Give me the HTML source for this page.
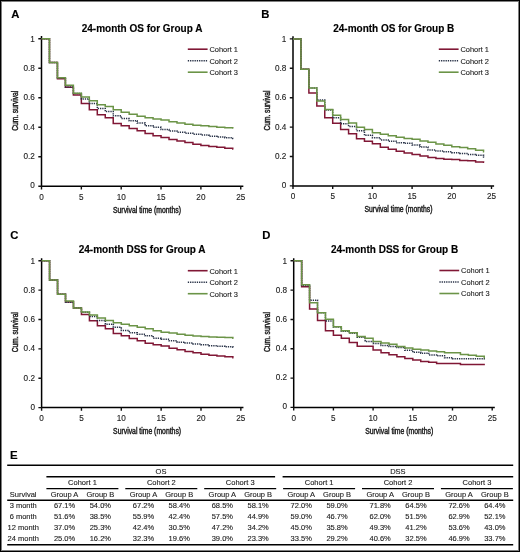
<!DOCTYPE html>
<html><head><meta charset="utf-8"><title>Survival curves</title>
<style>
html,body{margin:0;padding:0;background:#fff;}
body{width:520px;height:552px;overflow:hidden;position:relative;}
.frame{position:absolute;left:0;top:0;width:518px;height:550px;border:1px solid #000;}
.frame2{position:absolute;left:1px;top:1px;width:516px;height:548px;border:1px solid rgba(0,0,0,0.5);}
svg{position:absolute;left:0;top:0;font-family:"Liberation Sans", sans-serif;will-change:transform;filter:blur(0.3px);}
text{stroke:#222;stroke-width:0.12px;}
text[font-weight=bold]{stroke:#000;stroke-width:0.15px;}
</style></head><body>
<div class="frame"></div><div class="frame2"></div>
<svg width="520" height="552" viewBox="0 0 520 552">
<text x="11.2" y="17.8" font-size="11.3" font-weight="bold">A</text>
<text x="81.7" y="31.6" font-size="10" font-weight="bold">24-month OS for Group A</text>
<path d="M41.5 36.1V186.2H243.35" fill="none" stroke="#000" stroke-width="1.5"/>
<path d="M38.3 186.2H41.5M41.5 186.2V189.4M38.3 156.7H41.5M81.35 186.2V189.4M38.3 127.2H41.5M121.2 186.2V189.4M38.3 97.7H41.5M161.05 186.2V189.4M38.3 68.2H41.5M200.9 186.2V189.4M38.3 38.7H41.5M240.75 186.2V189.4" stroke="#111" stroke-width="1.4" fill="none"/>
<text x="34.9" y="188.25" font-size="8.2" text-anchor="end" fill="#222">0</text>
<text x="34.9" y="158.99" font-size="8.2" text-anchor="end" fill="#222">0.2</text>
<text x="34.9" y="129.73" font-size="8.2" text-anchor="end" fill="#222">0.4</text>
<text x="34.9" y="100.47" font-size="8.2" text-anchor="end" fill="#222">0.6</text>
<text x="34.9" y="71.21" font-size="8.2" text-anchor="end" fill="#222">0.8</text>
<text x="34.9" y="41.95" font-size="8.2" text-anchor="end" fill="#222">1</text>
<text x="41.5" y="199.7" font-size="8.2" text-anchor="middle" fill="#222">0</text>
<text x="81.35" y="199.7" font-size="8.2" text-anchor="middle" fill="#222">5</text>
<text x="121.2" y="199.7" font-size="8.2" text-anchor="middle" fill="#222">10</text>
<text x="161.05" y="199.7" font-size="8.2" text-anchor="middle" fill="#222">15</text>
<text x="200.9" y="199.7" font-size="8.2" text-anchor="middle" fill="#222">20</text>
<text x="240.75" y="199.7" font-size="8.2" text-anchor="middle" fill="#222">25</text>
<text transform="translate(18.2 110.8) rotate(-90)" font-size="8.4" text-anchor="middle" textLength="40" lengthAdjust="spacingAndGlyphs" fill="#222" style="stroke-width:0.45px">Cum. survival</text>
<text x="113" y="212.6" font-size="8.4" textLength="68" lengthAdjust="spacingAndGlyphs" fill="#222" style="stroke-width:0.45px">Survival time (months)</text>
<path d="M41.5 38.7H49.47V62.45H57.44V78.82H65.41V87.23H73.38V95.04H81.35V103.45H89.32V109.65H97.29V114.66H105.26V117.76H113.23V123.51H121.2V125.72H129.17V128.53H137.14V130.74H145.11V133.39H153.08V135.75H161.05V137.38H169.02V139.44H176.99V141.06H184.96V142.54H192.93V144.31H200.9V145.49H208.87V146.38H216.84V147.26H224.81V148.14H232.78V148.88h0.6" fill="none" stroke="#801735" stroke-width="1.5"/>
<path d="M41.5 38.7H49.47V62.45H57.44V77.79H65.41V87.08H73.38V93.59H81.35V98.88H89.32V103.45H97.29V108.47H105.26V111.56H113.23V115.84H121.2V118.5H129.17V120.86H137.14V123.07H145.11V125.72H153.08V127.2H161.05V129.56H169.02V131.03H176.99V132.21H184.96V133.25H192.93V134.13H200.9V135.02H208.87V136.2H216.84V137.08H224.81V137.67H232.78V138.56h0.6" fill="none" stroke="#283247" stroke-width="1.5" stroke-dasharray="1.3 0.95"/>
<path d="M41.5 38.7H49.47V62.45H57.44V77.79H65.41V85.16H73.38V93.13H81.35V96.96H89.32V100.8H97.29V104.63H105.26V106.55H113.23V109.65H121.2V112.3H129.17V114.37H137.14V116.14H145.11V117.76H153.08V118.94H161.05V119.97H169.02V121.74H176.99V123.07H184.96V124.25H192.93V125.28H200.9V125.87H208.87V126.61H216.84V127.2H224.81V127.64H232.78V127.94h0.6" fill="none" stroke="#6b9447" stroke-width="1.5"/>
<path d="M187.8 49.2H207.6" stroke="#801735" stroke-width="1.6"/>
<text x="209.4" y="52" font-size="8.1" textLength="28.6" lengthAdjust="spacingAndGlyphs" fill="#222">Cohort 1</text>
<path d="M187.8 60.7H207.6" stroke="#283247" stroke-width="1.5" stroke-dasharray="1.3 0.95"/>
<text x="209.4" y="63.5" font-size="8.1" textLength="28.6" lengthAdjust="spacingAndGlyphs" fill="#222">Cohort 2</text>
<path d="M187.8 72.2H207.6" stroke="#6b9447" stroke-width="1.6"/>
<text x="209.4" y="75" font-size="8.1" textLength="28.6" lengthAdjust="spacingAndGlyphs" fill="#222">Cohort 3</text>
<text x="261.2" y="17.8" font-size="11.3" font-weight="bold">B</text>
<text x="333.2" y="32.2" font-size="10" font-weight="bold">24-month OS for Group B</text>
<path d="M293 36.3V185.9H494.1" fill="none" stroke="#000" stroke-width="1.5"/>
<path d="M289.8 185.9H293M293 185.9V189.1M289.8 156.5H293M332.7 185.9V189.1M289.8 127.1H293M372.4 185.9V189.1M289.8 97.7H293M412.1 185.9V189.1M289.8 68.3H293M451.8 185.9V189.1M289.8 38.9H293M491.5 185.9V189.1" stroke="#111" stroke-width="1.4" fill="none"/>
<text x="286.4" y="187.95" font-size="8.2" text-anchor="end" fill="#222">0</text>
<text x="286.4" y="158.79" font-size="8.2" text-anchor="end" fill="#222">0.2</text>
<text x="286.4" y="129.63" font-size="8.2" text-anchor="end" fill="#222">0.4</text>
<text x="286.4" y="100.47" font-size="8.2" text-anchor="end" fill="#222">0.6</text>
<text x="286.4" y="71.31" font-size="8.2" text-anchor="end" fill="#222">0.8</text>
<text x="286.4" y="42.15" font-size="8.2" text-anchor="end" fill="#222">1</text>
<text x="293" y="199.4" font-size="8.2" text-anchor="middle" fill="#222">0</text>
<text x="332.7" y="199.4" font-size="8.2" text-anchor="middle" fill="#222">5</text>
<text x="372.4" y="199.4" font-size="8.2" text-anchor="middle" fill="#222">10</text>
<text x="412.1" y="199.4" font-size="8.2" text-anchor="middle" fill="#222">15</text>
<text x="451.8" y="199.4" font-size="8.2" text-anchor="middle" fill="#222">20</text>
<text x="491.5" y="199.4" font-size="8.2" text-anchor="middle" fill="#222">25</text>
<text transform="translate(269.7 110.5) rotate(-90)" font-size="8.4" text-anchor="middle" textLength="40" lengthAdjust="spacingAndGlyphs" fill="#222" style="stroke-width:0.45px">Cum. survival</text>
<text x="364.5" y="212.3" font-size="8.4" textLength="68" lengthAdjust="spacingAndGlyphs" fill="#222" style="stroke-width:0.45px">Survival time (months)</text>
<path d="M293 38.9H300.94V69.33H308.88V93H316.82V106.08H324.76V117.84H332.7V123.13H340.64V129.6H348.58V133.86H356.52V138.86H364.46V141.21H372.4V143.86H380.34V147.24H388.28V149.15H396.22V151.21H404.16V152.97H412.1V154.44H420.04V156.06H427.98V157.53H435.92V158.41H443.86V159.15H451.8V159.59H459.74V160.47H467.68V160.76H475.62V161.94H483.56V162.23h0.6" fill="none" stroke="#801735" stroke-width="1.5"/>
<path d="M293 38.9H300.94V69.33H308.88V88H316.82V100.05H324.76V109.89H332.7V117.84H340.64V123.87H348.58V126.51H356.52V130.63H364.46V135.33H372.4V137.83H380.34V139.89H388.28V141.21H396.22V142.68H404.16V143.27H412.1V144.89H420.04V147.09H427.98V150.03H435.92V151.06H443.86V151.8H451.8V152.68H459.74V153.56H467.68V154.44H475.62V155.32H483.56V156.94h0.6" fill="none" stroke="#283247" stroke-width="1.5" stroke-dasharray="1.3 0.95"/>
<path d="M293 38.9H300.94V69.33H308.88V88H316.82V101.08H324.76V109.61H332.7V115.34H340.64V119.6H348.58V122.98H356.52V127.25H364.46V129.6H372.4V132.69H380.34V134.16H388.28V135.77H396.22V137.24H404.16V138.57H412.1V139.15H420.04V140.92H427.98V142.24H435.92V144.01H443.86V145.33H451.8V146.65H459.74V147.53H467.68V148.86H475.62V150.18H483.56V151.8h0.6" fill="none" stroke="#6b9447" stroke-width="1.5"/>
<path d="M438.8 49.2H458.6" stroke="#801735" stroke-width="1.6"/>
<text x="460.4" y="52" font-size="8.1" textLength="28.6" lengthAdjust="spacingAndGlyphs" fill="#222">Cohort 1</text>
<path d="M438.8 60.7H458.6" stroke="#283247" stroke-width="1.5" stroke-dasharray="1.3 0.95"/>
<text x="460.4" y="63.5" font-size="8.1" textLength="28.6" lengthAdjust="spacingAndGlyphs" fill="#222">Cohort 2</text>
<path d="M438.8 72.2H458.6" stroke="#6b9447" stroke-width="1.6"/>
<text x="460.4" y="75" font-size="8.1" textLength="28.6" lengthAdjust="spacingAndGlyphs" fill="#222">Cohort 3</text>
<text x="10.2" y="239.2" font-size="11.3" font-weight="bold">C</text>
<text x="78.7" y="252.9" font-size="10" font-weight="bold">24-month DSS for Group A</text>
<path d="M41.6 258.2V407.6H243.45" fill="none" stroke="#000" stroke-width="1.5"/>
<path d="M38.4 407.6H41.6M41.6 407.6V410.8M38.4 378.24H41.6M81.45 407.6V410.8M38.4 348.88H41.6M121.3 407.6V410.8M38.4 319.52H41.6M161.15 407.6V410.8M38.4 290.16H41.6M201 407.6V410.8M38.4 260.8H41.6M240.85 407.6V410.8" stroke="#111" stroke-width="1.4" fill="none"/>
<text x="35" y="409.65" font-size="8.2" text-anchor="end" fill="#222">0</text>
<text x="35" y="380.53" font-size="8.2" text-anchor="end" fill="#222">0.2</text>
<text x="35" y="351.41" font-size="8.2" text-anchor="end" fill="#222">0.4</text>
<text x="35" y="322.29" font-size="8.2" text-anchor="end" fill="#222">0.6</text>
<text x="35" y="293.17" font-size="8.2" text-anchor="end" fill="#222">0.8</text>
<text x="35" y="264.05" font-size="8.2" text-anchor="end" fill="#222">1</text>
<text x="41.6" y="421.1" font-size="8.2" text-anchor="middle" fill="#222">0</text>
<text x="81.45" y="421.1" font-size="8.2" text-anchor="middle" fill="#222">5</text>
<text x="121.3" y="421.1" font-size="8.2" text-anchor="middle" fill="#222">10</text>
<text x="161.15" y="421.1" font-size="8.2" text-anchor="middle" fill="#222">15</text>
<text x="201" y="421.1" font-size="8.2" text-anchor="middle" fill="#222">20</text>
<text x="240.85" y="421.1" font-size="8.2" text-anchor="middle" fill="#222">25</text>
<text transform="translate(18.3 332.2) rotate(-90)" font-size="8.4" text-anchor="middle" textLength="40" lengthAdjust="spacingAndGlyphs" fill="#222" style="stroke-width:0.45px">Cum. survival</text>
<text x="113.1" y="434" font-size="8.4" textLength="68" lengthAdjust="spacingAndGlyphs" fill="#222" style="stroke-width:0.45px">Survival time (months)</text>
<path d="M41.6 260.8H49.57V279.88H57.54V294.27H65.51V301.9H73.48V307.92H81.45V314.53H89.42V320.69H97.39V325.83H105.36V328.77H113.33V333.47H121.3V335.81H129.27V338.46H137.24V340.66H145.21V343.15H153.18V344.77H161.15V345.94H169.12V348.15H177.09V349.76H185.06V351.52H193.03V352.84H201V354.16H208.97V355.19H216.94V356.07H224.91V356.66H232.88V357.69h0.6" fill="none" stroke="#801735" stroke-width="1.5"/>
<path d="M41.6 260.8H49.57V279.88H57.54V294.27H65.51V302.2H73.48V307.75H81.45V312.27H89.42V316.44H97.39V320.4H105.36V324.22H113.33V327.3H121.3V330.38H129.27V332.73H137.24V334.2H145.21V335.81H153.18V338.16H161.15V339.34H169.12V340.81H177.09V342.13H185.06V343.01H193.03V343.89H201V344.77H208.97V345.65H216.94V346.24H224.91V346.82H232.88V347.27h0.6" fill="none" stroke="#283247" stroke-width="1.5" stroke-dasharray="1.3 0.95"/>
<path d="M41.6 260.8H49.57V279.88H57.54V294.27H65.51V301.02H73.48V307.92H81.45V311.89H89.42V314.97H97.39V318.05H105.36V320.4H113.33V322.75H121.3V324.22H129.27V325.83H137.24V327.3H145.21V328.77H153.18V330.68H161.15V332.14H169.12V333.03H177.09V334.2H185.06V335.23H193.03V335.96H201V336.4H208.97V336.99H216.94V337.28H224.91V337.58H232.88V338.16h0.6" fill="none" stroke="#6b9447" stroke-width="1.5"/>
<path d="M187.8 270.7H207.6" stroke="#801735" stroke-width="1.6"/>
<text x="209.4" y="273.5" font-size="8.1" textLength="28.6" lengthAdjust="spacingAndGlyphs" fill="#222">Cohort 1</text>
<path d="M187.8 282.2H207.6" stroke="#283247" stroke-width="1.5" stroke-dasharray="1.3 0.95"/>
<text x="209.4" y="285" font-size="8.1" textLength="28.6" lengthAdjust="spacingAndGlyphs" fill="#222">Cohort 2</text>
<path d="M187.8 293.7H207.6" stroke="#6b9447" stroke-width="1.6"/>
<text x="209.4" y="296.5" font-size="8.1" textLength="28.6" lengthAdjust="spacingAndGlyphs" fill="#222">Cohort 3</text>
<text x="262.2" y="239.2" font-size="11.3" font-weight="bold">D</text>
<text x="330.9" y="252.9" font-size="10" font-weight="bold">24-month DSS for Group B</text>
<path d="M293.7 258.2V407.4H494.8" fill="none" stroke="#000" stroke-width="1.5"/>
<path d="M290.5 407.4H293.7M293.7 407.4V410.6M290.5 378.08H293.7M333.4 407.4V410.6M290.5 348.76H293.7M373.1 407.4V410.6M290.5 319.44H293.7M412.8 407.4V410.6M290.5 290.12H293.7M452.5 407.4V410.6M290.5 260.8H293.7M492.2 407.4V410.6" stroke="#111" stroke-width="1.4" fill="none"/>
<text x="287.1" y="409.45" font-size="8.2" text-anchor="end" fill="#222">0</text>
<text x="287.1" y="380.37" font-size="8.2" text-anchor="end" fill="#222">0.2</text>
<text x="287.1" y="351.29" font-size="8.2" text-anchor="end" fill="#222">0.4</text>
<text x="287.1" y="322.21" font-size="8.2" text-anchor="end" fill="#222">0.6</text>
<text x="287.1" y="293.13" font-size="8.2" text-anchor="end" fill="#222">0.8</text>
<text x="287.1" y="264.05" font-size="8.2" text-anchor="end" fill="#222">1</text>
<text x="293.7" y="420.9" font-size="8.2" text-anchor="middle" fill="#222">0</text>
<text x="333.4" y="420.9" font-size="8.2" text-anchor="middle" fill="#222">5</text>
<text x="373.1" y="420.9" font-size="8.2" text-anchor="middle" fill="#222">10</text>
<text x="412.8" y="420.9" font-size="8.2" text-anchor="middle" fill="#222">15</text>
<text x="452.5" y="420.9" font-size="8.2" text-anchor="middle" fill="#222">20</text>
<text x="492.2" y="420.9" font-size="8.2" text-anchor="middle" fill="#222">25</text>
<text transform="translate(270.4 332) rotate(-90)" font-size="8.4" text-anchor="middle" textLength="40" lengthAdjust="spacingAndGlyphs" fill="#222" style="stroke-width:0.45px">Cum. survival</text>
<text x="365.2" y="433.8" font-size="8.4" textLength="68" lengthAdjust="spacingAndGlyphs" fill="#222" style="stroke-width:0.45px">Survival time (months)</text>
<path d="M293.7 260.8H301.64V286.75H309.58V308.88H317.52V320.61H325.46V330.73H333.4V335.27H341.34V338.35H349.28V342.46H357.22V346.27H365.16V346.27H373.1V350.08H381.04V352.72H388.98V354.77H396.92V356.82H404.86V358.44H412.8V360.05H420.74V361.51H428.68V362.25H436.62V363.42H444.56V363.42H452.5V363.42H460.44V364.59H468.38V364.59H476.32V364.59H484.26V364.59h0.6" fill="none" stroke="#801735" stroke-width="1.5"/>
<path d="M293.7 260.8H301.64V285.43H309.58V300.24H317.52V312.84H325.46V320.95H333.4V327.11H341.34V331.17H349.28V333.37H357.22V337.33H365.16V341.43H373.1V343.48H381.04V345.53H388.98V346.56H396.92V347.59H404.86V350.23H412.8V352.28H420.74V353.16H428.68V354.92H436.62V355.8H444.56V357.7H452.5V358.73H460.44V358.73H468.38V358.73H476.32V358.73H484.26V359.75h0.6" fill="none" stroke="#283247" stroke-width="1.5" stroke-dasharray="1.3 0.95"/>
<path d="M293.7 260.8H301.64V284.7H309.58V302.73H317.52V312.84H325.46V319.29H333.4V326.77H341.34V330.73H349.28V332.63H357.22V336.45H365.16V338.35H373.1V341.43H381.04V343.04H388.98V344.22H396.92V346.56H404.86V347.88H412.8V349.2H420.74V349.93H428.68V351.11H436.62V351.84H444.56V352.72H452.5V352.72H460.44V354.62H468.38V355.36H476.32V356.24H484.26V357.7h0.6" fill="none" stroke="#6b9447" stroke-width="1.5"/>
<path d="M439.4 270.5H459.2" stroke="#801735" stroke-width="1.6"/>
<text x="461" y="273.3" font-size="8.1" textLength="28.6" lengthAdjust="spacingAndGlyphs" fill="#222">Cohort 1</text>
<path d="M439.4 282H459.2" stroke="#283247" stroke-width="1.5" stroke-dasharray="1.3 0.95"/>
<text x="461" y="284.8" font-size="8.1" textLength="28.6" lengthAdjust="spacingAndGlyphs" fill="#222">Cohort 2</text>
<path d="M439.4 293.5H459.2" stroke="#6b9447" stroke-width="1.6"/>
<text x="461" y="296.3" font-size="8.1" textLength="28.6" lengthAdjust="spacingAndGlyphs" fill="#222">Cohort 3</text>
<text x="9.9" y="458.7" font-size="11.5" font-weight="bold">E</text>
<path d="M7.2 465.3H513.2" stroke="#000" stroke-width="1.4"/>
<path d="M46.4 476.8H275.1M282.6 476.8H513.2" stroke="#000" stroke-width="1.4"/>
<path d="M46.4 488.6H118.4M125.3 488.6H197.3M204.2 488.6H276.2M283.1 488.6H355.1M362 488.6H434M440.9 488.6H512.9" stroke="#000" stroke-width="1.4"/>
<path d="M7.2 500.3H513.2" stroke="#000" stroke-width="1.4"/>
<path d="M7.2 544.8H513.2" stroke="#000" stroke-width="1.6"/>
<text x="161" y="473.7" font-size="7.5" text-anchor="middle" fill="#222">OS</text>
<text x="397.9" y="473.7" font-size="7.5" text-anchor="middle" fill="#222">DSS</text>
<text x="82.45" y="485.2" font-size="7.5" text-anchor="middle" fill="#222">Cohort 1</text>
<text x="64.55" y="497.2" font-size="7.5" text-anchor="middle" fill="#222">Group A</text>
<text x="100.35" y="497.2" font-size="7.5" text-anchor="middle" fill="#222">Group B</text>
<text x="161.35" y="485.2" font-size="7.5" text-anchor="middle" fill="#222">Cohort 2</text>
<text x="143.45" y="497.2" font-size="7.5" text-anchor="middle" fill="#222">Group A</text>
<text x="179.25" y="497.2" font-size="7.5" text-anchor="middle" fill="#222">Group B</text>
<text x="240.25" y="485.2" font-size="7.5" text-anchor="middle" fill="#222">Cohort 3</text>
<text x="222.35" y="497.2" font-size="7.5" text-anchor="middle" fill="#222">Group A</text>
<text x="258.15" y="497.2" font-size="7.5" text-anchor="middle" fill="#222">Group B</text>
<text x="319.15" y="485.2" font-size="7.5" text-anchor="middle" fill="#222">Cohort 1</text>
<text x="301.25" y="497.2" font-size="7.5" text-anchor="middle" fill="#222">Group A</text>
<text x="337.05" y="497.2" font-size="7.5" text-anchor="middle" fill="#222">Group B</text>
<text x="398.05" y="485.2" font-size="7.5" text-anchor="middle" fill="#222">Cohort 2</text>
<text x="380.15" y="497.2" font-size="7.5" text-anchor="middle" fill="#222">Group A</text>
<text x="415.95" y="497.2" font-size="7.5" text-anchor="middle" fill="#222">Group B</text>
<text x="476.95" y="485.2" font-size="7.5" text-anchor="middle" fill="#222">Cohort 3</text>
<text x="459.05" y="497.2" font-size="7.5" text-anchor="middle" fill="#222">Group A</text>
<text x="494.85" y="497.2" font-size="7.5" text-anchor="middle" fill="#222">Group B</text>
<text x="23.2" y="497.2" font-size="7.5" text-anchor="middle" fill="#222">Survival</text>
<text x="23.2" y="508.4" font-size="7.5" text-anchor="middle" fill="#222">3 month</text>
<text x="64.55" y="508.4" font-size="7.5" text-anchor="middle" fill="#222">67.1%</text>
<text x="100.35" y="508.4" font-size="7.5" text-anchor="middle" fill="#222">54.0%</text>
<text x="301.25" y="508.4" font-size="7.5" text-anchor="middle" fill="#222">72.0%</text>
<text x="337.05" y="508.4" font-size="7.5" text-anchor="middle" fill="#222">59.0%</text>
<text x="143.45" y="508.4" font-size="7.5" text-anchor="middle" fill="#222">67.2%</text>
<text x="179.25" y="508.4" font-size="7.5" text-anchor="middle" fill="#222">58.4%</text>
<text x="380.15" y="508.4" font-size="7.5" text-anchor="middle" fill="#222">71.8%</text>
<text x="415.95" y="508.4" font-size="7.5" text-anchor="middle" fill="#222">64.5%</text>
<text x="222.35" y="508.4" font-size="7.5" text-anchor="middle" fill="#222">68.5%</text>
<text x="258.15" y="508.4" font-size="7.5" text-anchor="middle" fill="#222">58.1%</text>
<text x="459.05" y="508.4" font-size="7.5" text-anchor="middle" fill="#222">72.6%</text>
<text x="494.85" y="508.4" font-size="7.5" text-anchor="middle" fill="#222">64.4%</text>
<text x="23.2" y="519.3" font-size="7.5" text-anchor="middle" fill="#222">6 month</text>
<text x="64.55" y="519.3" font-size="7.5" text-anchor="middle" fill="#222">51.6%</text>
<text x="100.35" y="519.3" font-size="7.5" text-anchor="middle" fill="#222">38.5%</text>
<text x="301.25" y="519.3" font-size="7.5" text-anchor="middle" fill="#222">59.0%</text>
<text x="337.05" y="519.3" font-size="7.5" text-anchor="middle" fill="#222">46.7%</text>
<text x="143.45" y="519.3" font-size="7.5" text-anchor="middle" fill="#222">55.9%</text>
<text x="179.25" y="519.3" font-size="7.5" text-anchor="middle" fill="#222">42.4%</text>
<text x="380.15" y="519.3" font-size="7.5" text-anchor="middle" fill="#222">62.0%</text>
<text x="415.95" y="519.3" font-size="7.5" text-anchor="middle" fill="#222">51.5%</text>
<text x="222.35" y="519.3" font-size="7.5" text-anchor="middle" fill="#222">57.5%</text>
<text x="258.15" y="519.3" font-size="7.5" text-anchor="middle" fill="#222">44.9%</text>
<text x="459.05" y="519.3" font-size="7.5" text-anchor="middle" fill="#222">62.9%</text>
<text x="494.85" y="519.3" font-size="7.5" text-anchor="middle" fill="#222">52.1%</text>
<text x="23.2" y="530.2" font-size="7.5" text-anchor="middle" fill="#222">12 month</text>
<text x="64.55" y="530.2" font-size="7.5" text-anchor="middle" fill="#222">37.0%</text>
<text x="100.35" y="530.2" font-size="7.5" text-anchor="middle" fill="#222">25.3%</text>
<text x="301.25" y="530.2" font-size="7.5" text-anchor="middle" fill="#222">45.0%</text>
<text x="337.05" y="530.2" font-size="7.5" text-anchor="middle" fill="#222">35.8%</text>
<text x="143.45" y="530.2" font-size="7.5" text-anchor="middle" fill="#222">42.4%</text>
<text x="179.25" y="530.2" font-size="7.5" text-anchor="middle" fill="#222">30.5%</text>
<text x="380.15" y="530.2" font-size="7.5" text-anchor="middle" fill="#222">49.3%</text>
<text x="415.95" y="530.2" font-size="7.5" text-anchor="middle" fill="#222">41.2%</text>
<text x="222.35" y="530.2" font-size="7.5" text-anchor="middle" fill="#222">47.2%</text>
<text x="258.15" y="530.2" font-size="7.5" text-anchor="middle" fill="#222">34.2%</text>
<text x="459.05" y="530.2" font-size="7.5" text-anchor="middle" fill="#222">53.6%</text>
<text x="494.85" y="530.2" font-size="7.5" text-anchor="middle" fill="#222">43.0%</text>
<text x="23.2" y="541.1" font-size="7.5" text-anchor="middle" fill="#222">24 month</text>
<text x="64.55" y="541.1" font-size="7.5" text-anchor="middle" fill="#222">25.0%</text>
<text x="100.35" y="541.1" font-size="7.5" text-anchor="middle" fill="#222">16.2%</text>
<text x="301.25" y="541.1" font-size="7.5" text-anchor="middle" fill="#222">33.5%</text>
<text x="337.05" y="541.1" font-size="7.5" text-anchor="middle" fill="#222">29.2%</text>
<text x="143.45" y="541.1" font-size="7.5" text-anchor="middle" fill="#222">32.3%</text>
<text x="179.25" y="541.1" font-size="7.5" text-anchor="middle" fill="#222">19.6%</text>
<text x="380.15" y="541.1" font-size="7.5" text-anchor="middle" fill="#222">40.6%</text>
<text x="415.95" y="541.1" font-size="7.5" text-anchor="middle" fill="#222">32.5%</text>
<text x="222.35" y="541.1" font-size="7.5" text-anchor="middle" fill="#222">39.0%</text>
<text x="258.15" y="541.1" font-size="7.5" text-anchor="middle" fill="#222">23.3%</text>
<text x="459.05" y="541.1" font-size="7.5" text-anchor="middle" fill="#222">46.9%</text>
<text x="494.85" y="541.1" font-size="7.5" text-anchor="middle" fill="#222">33.7%</text>
</svg>
</body></html>
